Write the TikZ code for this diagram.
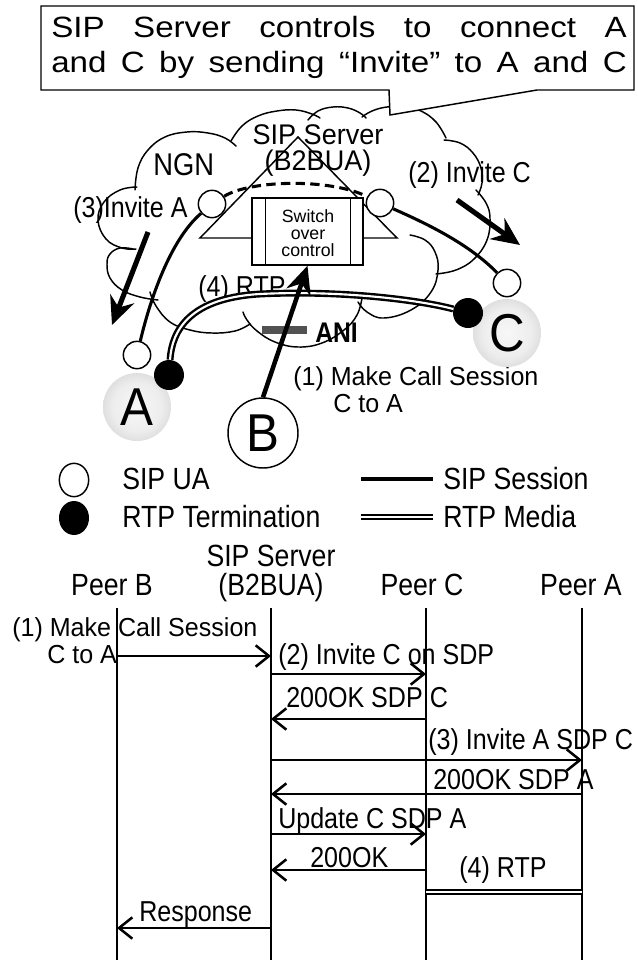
\documentclass[tikz,border=0pt]{standalone}
\usepackage{fontspec}
\usepackage{graphicx}
\setmainfont{Liberation Sans}
\usetikzlibrary{arrows.meta,shapes.geometric}
\pgfdeclareradialshading{softball}{\pgfpoint{0bp}{0bp}}{color(0bp)=(black!3); color(18bp)=(black!7); color(36bp)=(black!21); color(45bp)=(black!25); color(50bp)=(black!15)}
\newcommand{\tl}[1]{\scalebox{1}[1.15]{#1}}
\newcommand{\tm}[1]{\scalebox{1}[1.04]{#1}}
\begin{document}
\begin{tikzpicture}[x=0.75pt,y=-0.75pt,
  thinl/.style={line width=1.1pt},
  cloudl/.style={line width=1.1pt, line join=round, line cap=round},
  sess/.style={line width=2.3pt},
  rtpm/.style={double=white, line width=1.8pt, double distance=1.6pt},
  ua/.style={circle, draw, line width=1.1pt, fill=white, minimum size=20.5pt, inner sep=0},
  rtpt/.style={circle, fill=black, minimum size=22.5pt, inner sep=0},
  big/.style={circle, minimum size=51pt, inner sep=0, font=\fontsize{37pt}{40pt}\selectfont},
  lbl/.style={inner sep=0, anchor=base west, font=\fontsize{18.8pt}{22pt}\selectfont},
  hdr/.style={inner sep=0, anchor=base, font=\fontsize{20pt}{24pt}\selectfont},
  leg/.style={inner sep=0, anchor=base west, font=\fontsize{20pt}{24pt}\selectfont},
  bigarrow/.style={line width=3.8pt, -{Stealth[length=21pt,width=19pt,inset=7pt]}},
  msg/.style={line width=1.9pt, -{Straight Barb[length=10pt,width=16pt,line width=1.9pt]}},
  life/.style={line width=1.1pt},
]
\useasboundingbox (0,0) rectangle (637,960);
\fill[white] (0,0) rectangle (637,960);

% ---------------- cloud ----------------
\draw[cloudl] plot[smooth, tension=0.7] coordinates {(137,187) (120,190) (104,202) (98,220) (106,239) (122,248) (136,249)};
\draw[cloudl] plot[smooth, tension=0.7] coordinates {(135,190) (138,168) (148,150) (165,137) (187,132) (208,133) (225,138) (236,146)};
\draw[cloudl] plot[smooth, tension=0.7] coordinates {(231,141) (242,126) (258,116) (277,111) (296,110) (312,114) (320,118)};
\draw[cloudl] plot[smooth, tension=0.7] coordinates {(308,120) (318,111) (333,107) (348,108) (360,113) (366,118)};
\draw[cloudl] plot[smooth, tension=0.7] coordinates {(362,117) (372,111) (387,107) (405,107) (421,111) (436,122) (446,138)};
\draw[cloudl] plot[smooth, tension=0.7] coordinates {(444,140) (460,143) (473,153) (481,168) (482,183) (478,195)};
\draw[cloudl] plot[smooth, tension=0.7] coordinates {(476,190) (486,203) (490,218) (487,240) (474,259) (456,270) (436,274)};
\draw[cloudl] plot[smooth, tension=0.7] coordinates {(410,235) (425,240) (435,252) (438,270) (431,292) (411,310) (384,318) (367,312) (358,302)};
\draw[cloudl] plot[smooth, tension=0.7] coordinates {(362,298) (357,315) (344,330) (322,343) (298,347) (275,342) (257,331) (247,320) (243,312)};
\draw[cloudl] plot[smooth, tension=0.7] coordinates {(150,292) (156,306) (170,322) (190,330) (212,333) (235,331) (250,324)};
\draw[cloudl] plot[smooth, tension=0.7] coordinates {(158,300) (140,297) (122,290) (110,278) (107,264) (110,254) (120,248) (133,249)};

% ---------------- server ----------------
\draw[thinl] (298,137) -- (397,238) -- (200,238) -- cycle;
\node[draw, thinl, fill=white, minimum width=83.25pt, minimum height=50.25pt, inner sep=0] (sw) at (307.5,231.5) {};
\draw[thinl] ([xshift=10.5pt]sw.north west) -- ([xshift=10.5pt]sw.south west);
\draw[thinl] ([xshift=-9.75pt]sw.north east) -- ([xshift=-9.75pt]sw.south east);
\node[inner sep=0, align=center, font=\fontsize{13.3pt}{12.75pt}\selectfont] (swt) at (308,233) {Switch\\over\\control};

% ---------------- callout ----------------
\draw[thinl, fill=white] (41,6) -- (634,6) -- (634,90) -- (537,90) -- (390,115) -- (389,90) -- (41,90) -- cycle;
\node[inner sep=0, anchor=base west, font=\fontsize{22pt}{26pt}\selectfont] (cap1) at (51,37) {\scalebox{1.13}[1]{\makebox[382pt][s]{SIP Server controls to connect A}}};
\node[inner sep=0, anchor=base west, font=\fontsize{22pt}{26pt}\selectfont] (cap2) at (51,72) {\scalebox{1.13}[1]{\makebox[382pt][s]{and C by sending “Invite” to A and C}}};

% ---------------- labels ----------------
\node[inner sep=0, anchor=base west, font=\fontsize{20.5pt}{24pt}\selectfont] (ngn) at (153,175) {\tl{NGN}};
\node[inner sep=0, anchor=base, font=\fontsize{20.3pt}{24pt}\selectfont] (srv1) at (318,144) {\scalebox{1}[1.05]{SIP Server}};
\node[inner sep=0, anchor=base, font=\fontsize{20.3pt}{24pt}\selectfont] (srv2) at (318,170) {\scalebox{1}[1.05]{(B2BUA)}};
\node[lbl] (l3) at (73,217) {\tl{(3)Invite A}};
\node[lbl] (l2) at (408,182) {\tl{(2) Invite C}};
\node[lbl] (l4) at (198,296) {\tl{(4) RTP}};
\node[inner sep=0, anchor=base west, font=\bfseries\fontsize{18.5pt}{22pt}\selectfont] (ani) at (315,342) {\tl{ANI}};
\node[lbl] (l1a) at (293,385) {\tm{(1) Make Call Session}};
\node[lbl] (l1b) at (333,412) {\tm{C to A}};

% ---------------- endpoints ----------------
\node[ua] (uaL) at (212,204) {};
\node[ua] (uaR) at (380,203) {};
\node[ua] (uaC) at (507,283) {};
\node[ua] (uaA) at (137,355) {};

\draw[sess] (uaA) .. controls (150,300) and (170,240) .. (uaL);
\draw[sess, dash pattern=on 7pt off 4pt] (uaL) .. controls (250,180) and (330,178) .. (uaR);
\draw[sess] (uaR) .. controls (430,225) and (470,245) .. (uaC);

\node[big, shading=softball] (A) at (137,407) {\scalebox{1}[1.08]{A}};
\node[big, shading=softball] (C) at (507,333) {\scalebox{1}[1.08]{C}};
\node[big, draw, fill=white, line width=1.1pt, minimum size=52.5pt] (B) at (263,433) {\scalebox{1}[1.08]{B}};

\node[rtpt] (rA) at (169,375) {};
\node[rtpt] (rC) at (468,313) {};
\draw[rtpm] (rA) .. controls (172,330) and (190,298) .. (260,294) .. controls (340,290) and (420,300) .. (rC);

\coordinate (i3s) at (148,232);
\coordinate (i3e) at (112,325);
\draw[bigarrow] (i3s) -- (i3e);
\coordinate (i2s) at (457,200);
\coordinate (i2e) at (520,245);
\draw[bigarrow] (i2s) -- (i2e);

\coordinate (bar1) at (262,330);
\coordinate (bar2) at (307,330);
\draw[line width=5.4pt, draw=black!68] (bar1) -- (bar2);
\draw[bigarrow, line width=3.4pt] (B.north) -- (sw.south);

% ---------------- legend ----------------
\node[ellipse, draw, line width=1.1pt, fill=white, minimum width=22pt, minimum height=25pt, inner sep=0] (lgUA) at (74,480) {};
\node[ellipse, fill=black, minimum width=22.5pt, minimum height=25.5pt, inner sep=0] (lgRT) at (74,518) {};
\node[leg] (lgt1) at (122,489) {\tl{SIP UA}};
\node[leg] (lgt2) at (122,527) {\tl{RTP Termination}};
\coordinate (ls1) at (361,479);
\coordinate (ls2) at (433,479);
\draw[sess] (ls1) -- (ls2);
\coordinate (ld1) at (361,517);
\coordinate (ld2) at (433,517);
\draw[rtpm] (ld1) -- (ld2);
\node[leg] (lgt3) at (443,489) {\tl{SIP Session}};
\node[leg] (lgt4) at (443,527) {\tl{RTP Media}};

% ---------------- sequence ----------------
\node[hdr] (hS1) at (271,566) {\tl{SIP Server}};
\node[hdr] (hS2) at (271,595) {\tl{(B2BUA)}};
\node[hdr] (hB) at (112,595) {\tl{Peer B}};
\node[hdr] (hC) at (422,595) {\tl{Peer C}};
\node[hdr] (hA) at (581,595) {\tl{Peer A}};

\node[lbl] (t1a) at (12,636) {\tm{(1) Make Call Session}};
\node[lbl] (t1b) at (47,663) {\tm{C to A}};
\node[lbl] (t2) at (278,664) {\tl{(2) Invite C on SDP}};
\node[lbl] (t3) at (286,707) {\tl{200OK SDP C}};
\node[lbl] (t4) at (428,749) {\tl{(3) Invite A SDP C}};
\node[lbl] (t5) at (433,789) {\tl{200OK SDP A}};
\node[lbl] (t6) at (278,828) {\tl{Update C SDP A}};
\node[lbl] (t7) at (310,867) {\tl{200OK}};
\node[lbl] (t8) at (459,877) {\tl{(4) RTP}};
\node[lbl] (t9) at (139,921) {\tl{Response}};

\coordinate (tB) at (117,608);
\coordinate (tS) at (271,608);
\coordinate (tC) at (426,608);
\coordinate (tA) at (582,608);
\coordinate (bot) at (0,960);
\draw[life] (tB) -- (tB|-bot);
\draw[life] (tS) -- (tS|-bot);
\draw[life] (tC) -- (tC|-bot);
\draw[life] (tA) -- (tA|-bot);

\coordinate (m1) at (0,656);
\coordinate (m2) at (0,674);
\coordinate (m3) at (0,719);
\coordinate (m4) at (0,760);
\coordinate (m5) at (0,794);
\coordinate (m6) at (0,834);
\coordinate (m7) at (0,870);
\coordinate (m8) at (0,892);
\coordinate (m9) at (0,928);
\draw[msg] (tB|-m1) -- (tS|-m1);
\draw[msg] (tS|-m2) -- (tC|-m2);
\draw[msg] (tC|-m3) -- (tS|-m3);
\draw[msg] (tS|-m4) -- (tA|-m4);
\draw[msg] (tA|-m5) -- (tS|-m5);
\draw[msg] (tS|-m6) -- (tC|-m6);
\draw[msg] (tC|-m7) -- (tS|-m7);
\draw[rtpm] (tC|-m8) -- (tA|-m8);
\draw[msg] (tS|-m9) -- (tB|-m9);
\end{tikzpicture}
\end{document}
